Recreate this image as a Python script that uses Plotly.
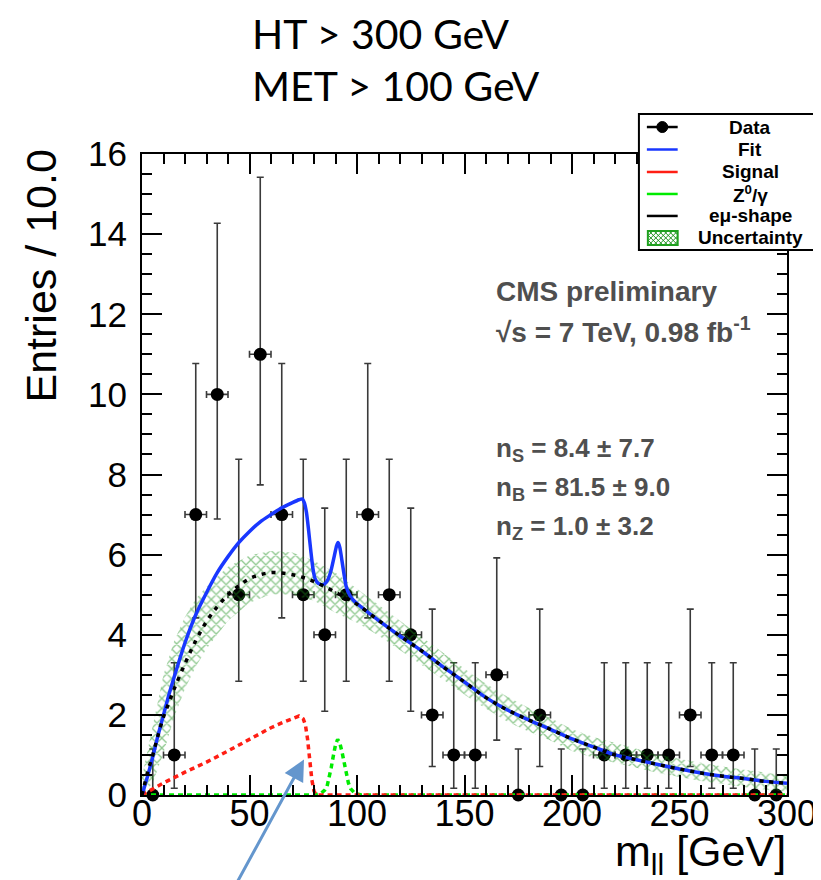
import numpy as np
import plotly.graph_objects as go

# ---------------- data ----------------
bin_centers = [5, 15, 25, 35, 45, 55, 65, 75, 85, 95, 105, 115, 125, 135, 145,
               155, 165, 175, 185, 195, 205, 215, 225, 235, 245, 255, 265, 275, 285, 295]
counts = [0, 1, 7, 10, 5, 11, 7, 5, 4, 5, 7, 5, 4, 2, 1,
          1, 3, 0, 2, 0, 0, 1, 1, 1, 1, 2, 1, 1, 0, 0]
err_up = [1.15, 2.30, 3.77, 4.27, 3.38, 4.42, 3.77, 3.38, 3.16, 3.38, 3.77, 3.38, 3.16, 2.64, 2.30,
          2.30, 2.92, 1.15, 2.64, 1.15, 1.15, 2.30, 2.30, 2.30, 2.30, 2.64, 2.30, 2.30, 1.15, 1.15]
err_dn = [0, 0.83, 2.58, 3.11, 2.16, 3.26, 2.58, 2.16, 1.91, 2.16, 2.58, 2.16, 1.91, 1.29, 0.83,
          0.83, 1.63, 0, 1.29, 0, 0, 0.83, 0.83, 0.83, 0.83, 1.29, 0.83, 0.83, 0, 0]
bin_half_width = 5

# e-mu shape (background)
bkg_x = [0, 2.5, 5, 7.5, 10, 12.5, 15, 20, 25, 30, 35, 40, 45, 50, 55, 60, 65, 70, 75, 80,
         85, 90, 95, 100, 110, 120, 130, 140, 150, 160, 170, 180, 190, 200, 210, 220, 230,
         240, 250, 260, 270, 280, 290, 300]
bkg_y = [0, 0.55, 1.0, 1.5, 1.95, 2.3, 2.65, 3.28, 3.85, 4.33, 4.7, 5.0, 5.22, 5.4, 5.5, 5.55,
         5.54, 5.5, 5.43, 5.33, 5.2, 5.06, 4.92, 4.76, 4.36, 3.97, 3.6, 3.2, 2.82, 2.43, 2.12,
         1.87, 1.64, 1.4, 1.2, 1.0, 0.88, 0.76, 0.65, 0.55, 0.47, 0.41, 0.34, 0.29]

# total fit
fit_x = [0, 2.5, 5, 7.5, 10, 12.5, 15, 20, 25, 30, 35, 40, 45, 50, 55, 60, 65, 70, 73, 74.5,
         75.5, 76.5, 77.5, 78.5, 79.5, 80.5, 82, 83.5, 85, 86.5, 88, 89.5, 90.5, 91.2, 92, 93,
         94, 95, 96.5, 98, 100, 110, 120, 130, 140, 150, 160, 170, 180, 190, 200, 210, 220,
         230, 240, 250, 260, 270, 280, 290, 300]
fit_y = [0, 0.45, 0.95, 1.5, 2.0, 2.5, 2.95, 3.8, 4.5, 5.05, 5.55, 5.95, 6.3, 6.58, 6.82, 7.0,
         7.17, 7.3, 7.37, 7.39, 7.3, 7.05, 6.6, 6.1, 5.65, 5.4, 5.28, 5.25, 5.27, 5.38, 5.62,
         5.98, 6.22, 6.3, 6.18, 5.85, 5.5, 5.2, 5.0, 4.88, 4.78, 4.36, 3.97, 3.6, 3.2, 2.82,
         2.43, 2.12, 1.87, 1.64, 1.4, 1.2, 1.0, 0.88, 0.76, 0.65, 0.55, 0.47, 0.41, 0.34, 0.29]

# signal
sig_x = [0, 10, 20, 30, 40, 50, 60, 65, 70, 73, 75, 76, 77, 78, 79, 80, 81, 300]
sig_y = [0, 0.3, 0.57, 0.82, 1.1, 1.4, 1.68, 1.8, 1.9, 1.97, 1.9, 1.75, 1.4, 0.85, 0.38, 0.1, 0, 0]

# Z0/gamma
z_x = [0, 80, 83, 85, 86, 87, 88, 89, 90, 91, 92, 93, 94, 95, 96, 97, 99, 102, 300]
z_y = [0, 0, 0.03, 0.12, 0.2, 0.4, 0.68, 0.98, 1.25, 1.39, 1.3, 1.08, 0.82, 0.55, 0.3, 0.16,
       0.04, 0, 0]

# uncertainty band
band_x = [0, 5, 10, 15, 20, 25, 30, 40, 50, 60, 70, 80, 90, 100, 110, 120, 130, 140, 150,
          160, 170, 180, 190, 200, 210, 220, 230, 240, 250, 260, 270, 280, 290, 300]
band_hi = [0.45, 1.75, 3.0, 3.85, 4.45, 4.9, 5.2, 5.7, 5.98, 6.09, 6.05, 5.85, 5.55, 5.15,
           4.75, 4.35, 3.95, 3.55, 3.15, 2.78, 2.45, 2.17, 1.92, 1.64, 1.45, 1.3, 1.15, 1.01,
           0.9, 0.8, 0.71, 0.63, 0.56, 0.5]
band_lo = [0, 0.3, 1.05, 1.95, 2.65, 3.2, 3.65, 4.35, 4.8, 5.01, 5.0, 4.85, 4.55, 4.3, 3.98,
           3.6, 3.25, 2.88, 2.5, 2.15, 1.83, 1.58, 1.36, 1.1, 0.93, 0.8, 0.68, 0.55, 0.45,
           0.35, 0.27, 0.2, 0.13, 0.08]

x_ticks = [0, 50, 100, 150, 200, 250, 300]
y_ticks = [0, 2, 4, 6, 8, 10, 12, 14, 16]

legend_labels = ["Data", "Fit", "Signal", "Z<sup>0</sup>/γ", "eμ-shape", "Uncertainty"]
legend_colors = ["black", "rgb(25,55,255)", "rgb(255,30,20)", "rgb(0,235,0)", "black", None]

stats_lines = ["n<sub>S</sub> = 8.4 ± 7.7", "n<sub>B</sub> = 81.5 ± 9.0", "n<sub>Z</sub> = 1.0 ± 3.2"]

# ---------------- geometry (pixels) ----------------
W, H = 821, 880
L, R, T, B = 134, 783, 146, 787.5


def px(x):
    return (x - L) / (R - L)


def py(y):
    return (B - y) / (B - T)


FONT = "Liberation Sans, Arial, Helvetica, sans-serif"
BLUE = "rgb(25,55,255)"
RED = "rgb(255,30,20)"
GREEN = "rgb(0,235,0)"
HATCH = "rgb(30,145,30)"

fig = go.Figure()

# data points
fig.add_trace(go.Scatter(
    x=bin_centers, y=counts, mode="markers", cliponaxis=False,
    marker=dict(color="black", size=13),
    error_y=dict(type="data", symmetric=False, array=err_up, arrayminus=err_dn,
                 color="#3a3a3a", thickness=1.6, width=3.5),
    error_x=dict(type="data", array=[bin_half_width if c > 0 else 0 for c in counts],
                 color="#3a3a3a", thickness=1.6, width=3.5),
    showlegend=False, hoverinfo="skip"))

# uncertainty band
fig.add_trace(go.Scatter(
    x=band_x + band_x[::-1], y=band_hi + band_lo[::-1],
    mode="lines", fill="toself", fillcolor="rgba(0,0,0,0)",
    fillpattern=dict(shape="x", fgcolor=HATCH, bgcolor="rgba(0,0,0,0)", size=7, solidity=0.35),
    line=dict(width=0), showlegend=False, hoverinfo="skip"))

# Z and signal
fig.add_trace(go.Scatter(x=z_x, y=z_y, mode="lines",
                         line=dict(color=GREEN, width=3.5, dash="5px,4px"),
                         showlegend=False, hoverinfo="skip"))
fig.add_trace(go.Scatter(x=sig_x, y=sig_y, mode="lines",
                         line=dict(color=RED, width=3.5, dash="5px,4px"),
                         showlegend=False, hoverinfo="skip"))
# fit
fig.add_trace(go.Scatter(x=fit_x, y=fit_y, mode="lines", line_shape="spline",
                         line=dict(color=BLUE, width=3.5, smoothing=0.6),
                         showlegend=False, hoverinfo="skip"))
# e-mu shape
fig.add_trace(go.Scatter(x=bkg_x, y=bkg_y, mode="lines", line_shape="spline",
                         line=dict(color="black", width=3.5, dash="4px,6px"),
                         showlegend=False, hoverinfo="skip"))

axis_common = dict(showline=True, linewidth=2, linecolor="black", mirror="ticks",
                   ticks="inside", ticklen=20, tickwidth=1.5, tickcolor="black",
                   showgrid=False, zeroline=False)

fig.update_layout(
    width=W, height=H,
    margin=dict(l=L, r=W - R, t=T, b=H - B, pad=0),
    paper_bgcolor="white", plot_bgcolor="white",
    showlegend=False,
    xaxis=dict(range=[0, 300], tickvals=x_ticks, ticktext=[str(v) for v in x_ticks],
               tickfont=dict(family=FONT, size=36, color="black"), ticklabelstandoff=-14,
               minor=dict(dtick=10, ticklen=10, ticks="inside", tickwidth=1.5, tickcolor="black"),
               **axis_common),
    yaxis=dict(range=[0, 16], tickvals=y_ticks, ticktext=[str(v) for v in y_ticks],
               tickfont=dict(family=FONT, size=35, color="black"), ticklabelstandoff=6,
               minor=dict(dtick=0.5, ticklen=10, ticks="inside", tickwidth=1.5, tickcolor="black"),
               **axis_common),
)

shapes = []
annotations = []

# titles
annotations.append(dict(text="Entries / 10.0", x=px(32), y=py(268), xref="paper", yref="paper",
                        textangle=-90, showarrow=False, xanchor="center", yanchor="middle",
                        font=dict(family=FONT, size=43, color="black")))
annotations.append(dict(text="m<sub>ll</sub> [GeV]", x=px(784), y=py(847), xref="paper",
                        yref="paper", showarrow=False, xanchor="right", yanchor="middle",
                        font=dict(family=FONT, size=43, color="black")))

# slide header
annotations.append(dict(text="HT > 300 GeV", x=px(243), y=py(25), xref="paper", yref="paper",
                        showarrow=False, xanchor="left", yanchor="middle",
                        font=dict(family="Lato, Open Sans, sans-serif", size=41, color="black")))
annotations.append(dict(text="MET > 100 GeV", x=px(243), y=py(77), xref="paper", yref="paper",
                        showarrow=False, xanchor="left", yanchor="middle",
                        font=dict(family="Lato, Open Sans, sans-serif", size=41, color="black")))

# CMS texts
GREY = "#4f4f4f"
annotations.append(dict(text="<b>CMS preliminary</b>", x=px(488), y=py(284), xref="paper",
                        yref="paper", showarrow=False, xanchor="left", yanchor="middle",
                        font=dict(family=FONT, size=28, color=GREY)))
annotations.append(dict(text="<b>√s = 7 TeV, 0.98 fb<sup>-1</sup></b>", x=px(488), y=py(322),
                        xref="paper", yref="paper", showarrow=False, xanchor="left",
                        yanchor="middle", font=dict(family=FONT, size=28, color=GREY)))
for i, s in enumerate(stats_lines):
    annotations.append(dict(text="<b>" + s + "</b>", x=px(488), y=py(442 + 39 * i), xref="paper",
                            yref="paper", showarrow=False, xanchor="left", yanchor="middle",
                            font=dict(family=FONT, size=26, color=GREY)))

# legend box
bx0, by0, bx1, by1 = 634, 106, 815, 242
shapes.append(dict(type="rect", xref="paper", yref="paper", x0=px(bx0), x1=px(bx1),
                   y0=py(by1), y1=py(by0), line=dict(color="black", width=2),
                   fillcolor="white", layer="above"))
row_y = [119, 141.5, 164, 186, 208, 230]
for lab, col, yy in zip(legend_labels, legend_colors, row_y):
    if col is not None:
        shapes.append(dict(type="line", xref="paper", yref="paper", x0=px(642), x1=px(673),
                           y0=py(yy), y1=py(yy), line=dict(color=col, width=2.5), layer="above"))
    annotations.append(dict(text="<b>" + lab + "</b>", x=px(746), y=py(yy), xref="paper",
                            yref="paper", showarrow=False, xanchor="center", yanchor="middle",
                            font=dict(family=FONT, size=19, color="black")))
# data marker in legend
shapes.append(dict(type="circle", xref="paper", yref="paper", x0=px(652), x1=px(663),
                   y0=py(124.5), y1=py(113.5), fillcolor="black", line=dict(color="black", width=1),
                   layer="above"))
# uncertainty swatch with hatch
sx0, sy0, sx1, sy1 = 643, 223, 673, 237
step = 5.0
segs = []
w, h = sx1 - sx0, sy1 - sy0
for c in np.arange(-h, w, step):
    t0, t1 = max(0, -c), min(h, w - c)
    if t1 > t0:
        segs.append("M%.5f,%.5f L%.5f,%.5f" % (px(sx0 + c + t0), py(sy0 + t0), px(sx0 + c + t1), py(sy0 + t1)))
        segs.append("M%.5f,%.5f L%.5f,%.5f" % (px(sx0 + c + t0), py(sy1 - t0), px(sx0 + c + t1), py(sy1 - t1)))
shapes.append(dict(type="path", xref="paper", yref="paper", path=" ".join(segs),
                   line=dict(color=HATCH, width=1), layer="above"))
shapes.append(dict(type="rect", xref="paper", yref="paper", x0=px(sx0), x1=px(sx1),
                   y0=py(sy1), y1=py(sy0), line=dict(color="rgb(30,160,30)", width=2),
                   layer="above"))

# slide arrow
annotations.append(dict(text="", x=px(297), y=py(752), xref="paper", yref="paper",
                        showarrow=True, ax=-70, ay=140, arrowhead=2, arrowsize=1.4,
                        arrowwidth=3, arrowcolor="rgb(100,150,205)"))

fig.update_layout(shapes=shapes, annotations=annotations)
fig.write_html("out.html")
